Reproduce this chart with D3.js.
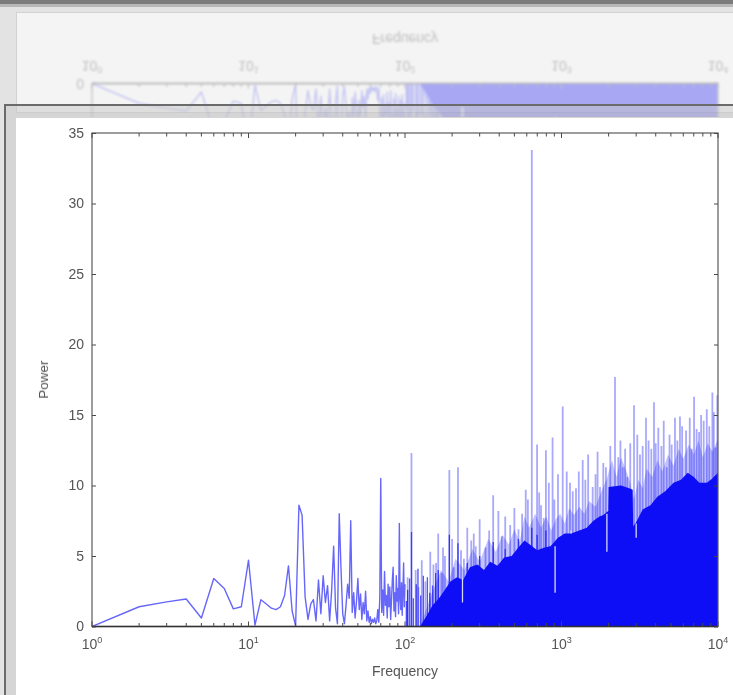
<!DOCTYPE html>
<html><head><meta charset="utf-8">
<script src="https://cdn.jsdelivr.net/npm/d3@7"></script>
<style>body{margin:0;background:#e3e3e3;} svg{display:block}</style>
</head><body><svg id="c" width="733" height="695"></svg>
<script>
// ---------- data ----------
const lineFreq = [1,2,3,4,5,6,7,8,9,10,11,12,13,14,15,16,17,18,19,20,21,22,23,24,25,26,27,28,29,30,31,32,33,34,35,36,37,38,39,40,41,42,43,44,45,46,47,48,49,50,51,52,53,54,55,56,57,58,59,60,61,62,63,64,65,66,67,68,69,70,71,72,73,74,75,76,77,78,79,80,81,82,83,84,85,86,87,88,89,90,91,92,93,94,95,96,97,98,99,100];
const linePower = [0,1.4,1.75,1.95,0.6,3.4,2.7,1.25,1.4,4.7,0.1,1.9,1.6,1.3,1.2,1.4,2.2,4.3,1.1,0.05,8.6,7.9,2.1,0.5,1.6,1.9,0.4,3.3,0.9,3.6,1.7,2.9,0.4,2.6,5.7,1.3,0.2,8.0,4.1,0.9,0.2,1.5,3.0,2.0,7.5,1.0,2.4,0.6,1.8,3.4,1.2,2.3,0.5,1.7,0.9,2.5,0.4,1.1,0.3,0.7,0.2,0.5,0.3,0.6,0.2,0.4,1.2,0.3,2.0,10.5,1.0,2.6,0.8,3.9,1.5,2.2,0.6,3.0,1.4,2.8,0.5,1.9,3.3,4.2,1.1,2.4,0.7,3.6,1.8,2.7,0.9,7.3,2.0,1.2,3.1,0.8,2.6,4.5,1.4,3.0];

// solid (saturated) part of the dense spectrum: top edge
const bandFreq = [125,140,150,165,180,195,215,235,260,290,320,350,390,430,480,530,580,630,700,780,850,950,1050,1150,1300,1450,1600,1750,1850,1990,2000,2400,2700,2850,2870,3000,3300,3700,4100,4600,5200,5800,6400,7000,7600,8500,9200,10000];
const bandTop  = [0,0.9,1.5,2.0,2.6,3.2,3.5,3.3,4.2,4.4,4.0,4.6,4.3,4.9,5.0,5.6,6.1,5.8,5.4,5.6,5.7,6.3,6.6,6.6,6.8,7.0,7.5,7.8,7.9,8.2,9.9,10.0,9.8,9.7,7.1,7.4,8.3,8.6,9.2,9.6,10.2,10.4,10.9,10.6,10.2,10.2,10.5,10.9];

// light haze above the solid part
const cloudFreq = [125,150,170,190,210,240,270,300,340,380,420,460,500,540,580,620,680,740,800,860,920,980,1050,1120,1200,1300,1400,1500,1650,1800,1950,2100,2250,2400,2600,2750,2900,3100,3300,3500,3800,4100,4400,4800,5200,5600,6000,6500,7000,7500,8000,8600,9200,10000];
const cloudTop  = [0,2.5,4.0,3.2,4.8,4.0,5.5,4.6,6.2,5.3,6.5,5.8,6.9,6.0,7.8,7.0,8.0,7.0,7.8,6.8,7.6,8.0,7.3,8.4,7.9,8.5,8.0,8.9,8.5,9.6,10.5,11.8,10.6,12.0,11.0,10.2,9.0,10.4,9.8,11.2,10.6,11.8,11.0,12.2,11.4,12.6,11.9,12.9,12.2,13.2,12.0,13.0,12.4,13.3];

// individual tall spikes (light)
const spikeFreq  = [104,110,117,122,128,135,145,152,158,163,171,175,180,192,200,205,218,228,238,250,265,275,283,300,327,345,366,395,415,437,470,500,531,560,591,610,646,698,720,740,770,795,830,877,900,950,1018,1080,1133,1180,1238,1290,1366,1420,1480,1582,1650,1700,1762,1850,1923,2050,2197,2307,2380,2461,2550,2634,2750,2906,3050,3173,3300,3467,3600,3750,3900,4000,4156,4350,4500,4701,4900,5059,5310,5500,5714,5900,6250,6600,6800,7031,7300,7570,7800,8100,8477,8800,9204,9400,9664,9900];
const spikePower = [3.5,12.3,4.0,2.8,4.7,3.2,5.3,4.4,4.5,6.6,3.8,5.6,5.0,11.1,6.2,4.2,11.3,5.4,4.8,7.0,6.1,6.6,5.7,7.6,5.6,6.8,9.3,8.2,6.4,7.8,7.2,8.4,6.9,8.0,9.7,9.0,33.8,12.9,9.5,8.6,7.7,12.5,10.2,13.4,9.0,10.8,15.6,11.0,10.2,9.6,9.8,11.0,11.8,10.4,12.2,9.9,10.8,12.4,9.9,11.6,11.3,12.8,17.7,12.0,13.2,11.3,12.6,10.6,13.0,15.7,13.6,12.2,12.8,14.8,13.2,12.6,15.9,13.0,14.1,12.8,14.6,11.3,13.6,12.9,14.8,13.2,14.9,14.2,13.9,14.8,12.6,16.3,14.0,13.8,15.0,14.6,15.4,14.2,16.6,15.2,12.7,16.4];

// darker (overlapping) line segments
const darkFreq  = [102,104,107,110,113,118,121,126,131,139,144,150,157,163,192,218,250,300,366,437,531,646,698,795];
const darkPower = [1.8,2.6,3.4,6.7,2.0,3.0,4.1,2.2,3.6,3.5,2.4,2.9,3.8,4.0,6.5,5.9,4.5,5.0,6.0,5.5,6.2,7.0,6.5,6.8];

// narrow white gaps inside the solid part
const dipFreq  = [233,910,1150,1950,3000];
const dipLow   = [1.7,2.4,6.8,5.3,6.3];
const dipHigh  = [3.4,5.7,6.6,8.0,7.3];

const yTicks = [0,5,10,15,20,25,30,35];
const xDecades = [0,1,2,3,4];
const xLabel = "Frequency";
const yLabel = "Power";

// ---------- scales ----------
const x = d3.scaleLog().domain([1,1e4]).range([92,718]);
const y = d3.scaleLinear().domain([0,35]).range([626.5,133]);
const FONT = "'Liberation Sans', Arial, Helvetica, sans-serif";
const BLUE = "#0a0af6";

const svg = d3.select("#c");
const defs = svg.append("defs");
defs.append("clipPath").attr("id","refClip").append("rect")
  .attr("x",17).attr("y",9).attr("width",716).attr("height",108);
defs.append("clipPath").attr("id","plotClip").append("rect")
  .attr("x",92).attr("y",133).attr("width",626).attr("height",493.5);
defs.append("filter").attr("id","soft").attr("x","-2%").attr("y","-2%").attr("width","104%").attr("height","104%")
  .append("feGaussianBlur").attr("stdDeviation",0.6);
defs.append("filter").attr("id","softer").attr("x","-2%").attr("y","-2%").attr("width","104%").attr("height","104%")
  .append("feGaussianBlur").attr("stdDeviation",1.3);

// ---------- frame / background ----------
svg.append("rect").attr("width",733).attr("height",695).attr("fill","#e3e3e3");
svg.append("rect").attr("x",0).attr("y",0).attr("width",733).attr("height",4).attr("fill","#7c7c7c");
svg.append("rect").attr("x",0).attr("y",4).attr("width",733).attr("height",3).attr("fill","#b8b8b8");
svg.append("rect").attr("x",16.5).attr("y",12.5).attr("width",720).attr("height",100)
  .attr("fill","#f4f4f4").attr("stroke","#d2d2d2");

function drawChart(g){
  const plot = g.append("g").attr("clip-path","url(#plotClip)");
  plot.append("path")
    .attr("d", d3.line().x((d,i)=>x(lineFreq[i])).y(d=>y(d))(linePower))
    .attr("fill","none").attr("stroke",BLUE).attr("stroke-opacity",0.6).attr("stroke-width",1.4)
    .attr("stroke-linejoin","round");
  plot.append("path")
    .attr("d", d3.area().x((d,i)=>x(cloudFreq[i])).y0(y(0)).y1(d=>y(d))(cloudTop))
    .attr("fill",BLUE).attr("fill-opacity",0.24);
  plot.selectAll(".spk").data(spikePower).join("line").attr("class","spk")
    .attr("x1",(d,i)=>x(spikeFreq[i])).attr("x2",(d,i)=>x(spikeFreq[i]))
    .attr("y1",y(0)).attr("y2",d=>y(d))
    .attr("stroke",BLUE).attr("stroke-opacity",0.34).attr("stroke-width",1.8);
  plot.selectAll(".dk").data(darkPower).join("line").attr("class","dk")
    .attr("x1",(d,i)=>x(darkFreq[i])).attr("x2",(d,i)=>x(darkFreq[i]))
    .attr("y1",y(0)).attr("y2",d=>y(d))
    .attr("stroke",BLUE).attr("stroke-opacity",0.7).attr("stroke-width",1.3);
  plot.append("path")
    .attr("d", d3.area().x((d,i)=>x(bandFreq[i])).y0(y(0)).y1(d=>y(d))(bandTop))
    .attr("fill",BLUE);
  plot.selectAll(".dip").data(dipLow).join("line").attr("class","dip")
    .attr("x1",(d,i)=>x(dipFreq[i])).attr("x2",(d,i)=>x(dipFreq[i]))
    .attr("y1",d=>y(d)).attr("y2",(d,i)=>y(dipHigh[i]))
    .attr("stroke","#d8daff").attr("stroke-width",1.3);

  const axCol = "#4a4a4a";
  g.append("rect").attr("x",x(1)).attr("y",y(35)).attr("width",x(1e4)-x(1)).attr("height",y(0)-y(35))
    .attr("fill","none").attr("stroke","#5a5a5a").attr("stroke-width",1.2);
  g.append("line").attr("x1",x(1)).attr("x2",x(1e4)).attr("y1",y(0)).attr("y2",y(0))
    .attr("stroke","#333").attr("stroke-width",1.6);

  const ya = g.append("g").attr("transform",`translate(${x(1)},0)`)
    .call(d3.axisLeft(y).tickValues(yTicks).tickSizeInner(-4).tickSizeOuter(0).tickPadding(8));
  ya.select(".domain").remove();
  ya.selectAll("line").attr("stroke",axCol);
  ya.selectAll("text").attr("font-family",FONT).attr("font-size",14).attr("fill","#555");
  const yr = g.append("g").attr("transform",`translate(${x(1e4)},0)`)
    .call(d3.axisRight(y).tickValues(yTicks).tickSizeInner(-4).tickSizeOuter(0).tickFormat(""));
  yr.select(".domain").remove();
  yr.selectAll("line").attr("stroke",axCol);

  const allTicks = x.ticks();
  allTicks.forEach(t=>{
    const major = Math.abs(Math.log10(t)-Math.round(Math.log10(t)))<1e-9;
    const len = major?5:3.5;
    g.append("line").attr("x1",x(t)).attr("x2",x(t)).attr("y1",y(0)).attr("y2",y(0)-len)
      .attr("stroke",axCol).attr("stroke-width",1);
    g.append("line").attr("x1",x(t)).attr("x2",x(t)).attr("y1",y(35)).attr("y2",y(35)+len)
      .attr("stroke",axCol).attr("stroke-width",1);
  });
  xDecades.forEach(k=>{
    const t = g.append("text").attr("x",x(Math.pow(10,k))).attr("y",y(0)+22)
      .attr("text-anchor","middle").attr("font-family",FONT).attr("font-size",14).attr("fill","#555");
    t.append("tspan").text("10");
    t.append("tspan").attr("dy",-6).attr("font-size",9).text(String(k));
  });
  g.append("text").attr("x",(x(1)+x(1e4))/2).attr("y",y(0)+49).attr("text-anchor","middle")
    .attr("font-family",FONT).attr("font-size",14).attr("fill","#555").text(xLabel);
  g.append("text").attr("transform",`translate(48,${(y(0)+y(35))/2}) rotate(-90)`).attr("text-anchor","middle")
    .attr("font-family",FONT).attr("font-size",13.5).attr("fill","#555").text(yLabel);
}

const refl = svg.append("g").attr("clip-path","url(#refClip)").attr("opacity",0.33);
drawChart(refl.append("g").attr("filter","url(#softer)").attr("transform","translate(0,710) scale(1,-1)"));

svg.append("rect").attr("x",5).attr("y",105).attr("width",740).attr("height",600)
  .attr("fill","rgba(200,200,200,0.5)").attr("stroke","#6b6b6b").attr("stroke-width",2);
svg.append("rect").attr("x",16).attr("y",118).attr("width",720).attr("height",580).attr("fill","#ffffff");

drawChart(svg.append("g").attr("filter","url(#soft)"));
</script></body></html>
